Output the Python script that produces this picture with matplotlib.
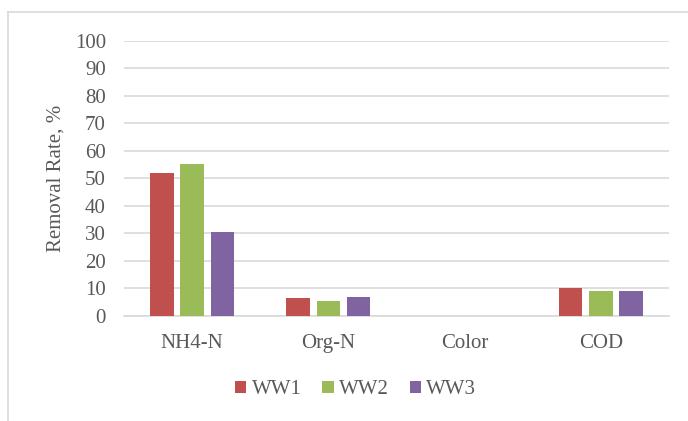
import numpy as np
import matplotlib
matplotlib.use("Agg")
import matplotlib.pyplot as plt
from matplotlib.lines import Line2D

# removal rates (%) per parameter for each wastewater
categories = ["NH4-N", "Org-N", "Color", "COD"]
ww1 = [52.1, 6.6, 0, 10.0]
ww2 = [55.4, 5.4, 0, 9.0]
ww3 = [30.4, 6.9, 0, 9.0]
series = ["WW1", "WW2", "WW3"]
colors = ["#C0504D", "#9BBB59", "#8064A2"]

plt.rcParams["font.family"] = ["Liberation Serif", "DejaVu Serif"]
txt = "#595959"
grid_c = "#D9D9D9"
fs = 15

fig = plt.figure(figsize=(6.88, 4.21), dpi=100)
ax = fig.add_axes([0.1802, 0.2501, 0.7922, 0.6525])

x = np.arange(len(categories))
w = 0.172
step = 0.222
for i, (vals, name, c) in enumerate(zip([ww1, ww2, ww3], series, colors)):
    ax.bar(x + (i - 1) * step, vals, width=w, color=c, label=name, zorder=3)

ax.set_xlim(-0.5, len(categories) - 0.5)
ax.set_ylim(0, 100)
ax.set_yticks(np.arange(0, 101, 10))
ax.set_xticks(x)
ax.set_xticklabels(categories)
ax.yaxis.grid(True, color=grid_c, lw=1.2, zorder=0)
for s in ["top", "right", "left"]:
    ax.spines[s].set_visible(False)
ax.spines["bottom"].set_color(grid_c)
ax.spines["bottom"].set_linewidth(1.2)
ax.tick_params(axis="both", length=0, labelsize=fs, colors=txt)
ax.tick_params(axis="y", pad=13)
ax.tick_params(axis="x", pad=13)
ax.set_ylabel("Removal Rate, %", fontsize=fs, color=txt, labelpad=7)

leg = fig.legend(loc="center", bbox_to_anchor=(0.517, 0.074), ncol=3,
                 frameon=False, fontsize=fs, handlelength=0.55,
                 handleheight=0.55, handletextpad=0.25, columnspacing=1.0)
for t in leg.get_texts():
    t.set_color(txt)

# chart area border (top and left edges)
fig.add_artist(Line2D([7.5 / 688, 1], [1 - 11.5 / 421] * 2, color=grid_c, lw=1.2))
fig.add_artist(Line2D([7.5 / 688] * 2, [0, 1 - 11.5 / 421], color=grid_c, lw=1.2))

fig.savefig("out.png", dpi=100)
